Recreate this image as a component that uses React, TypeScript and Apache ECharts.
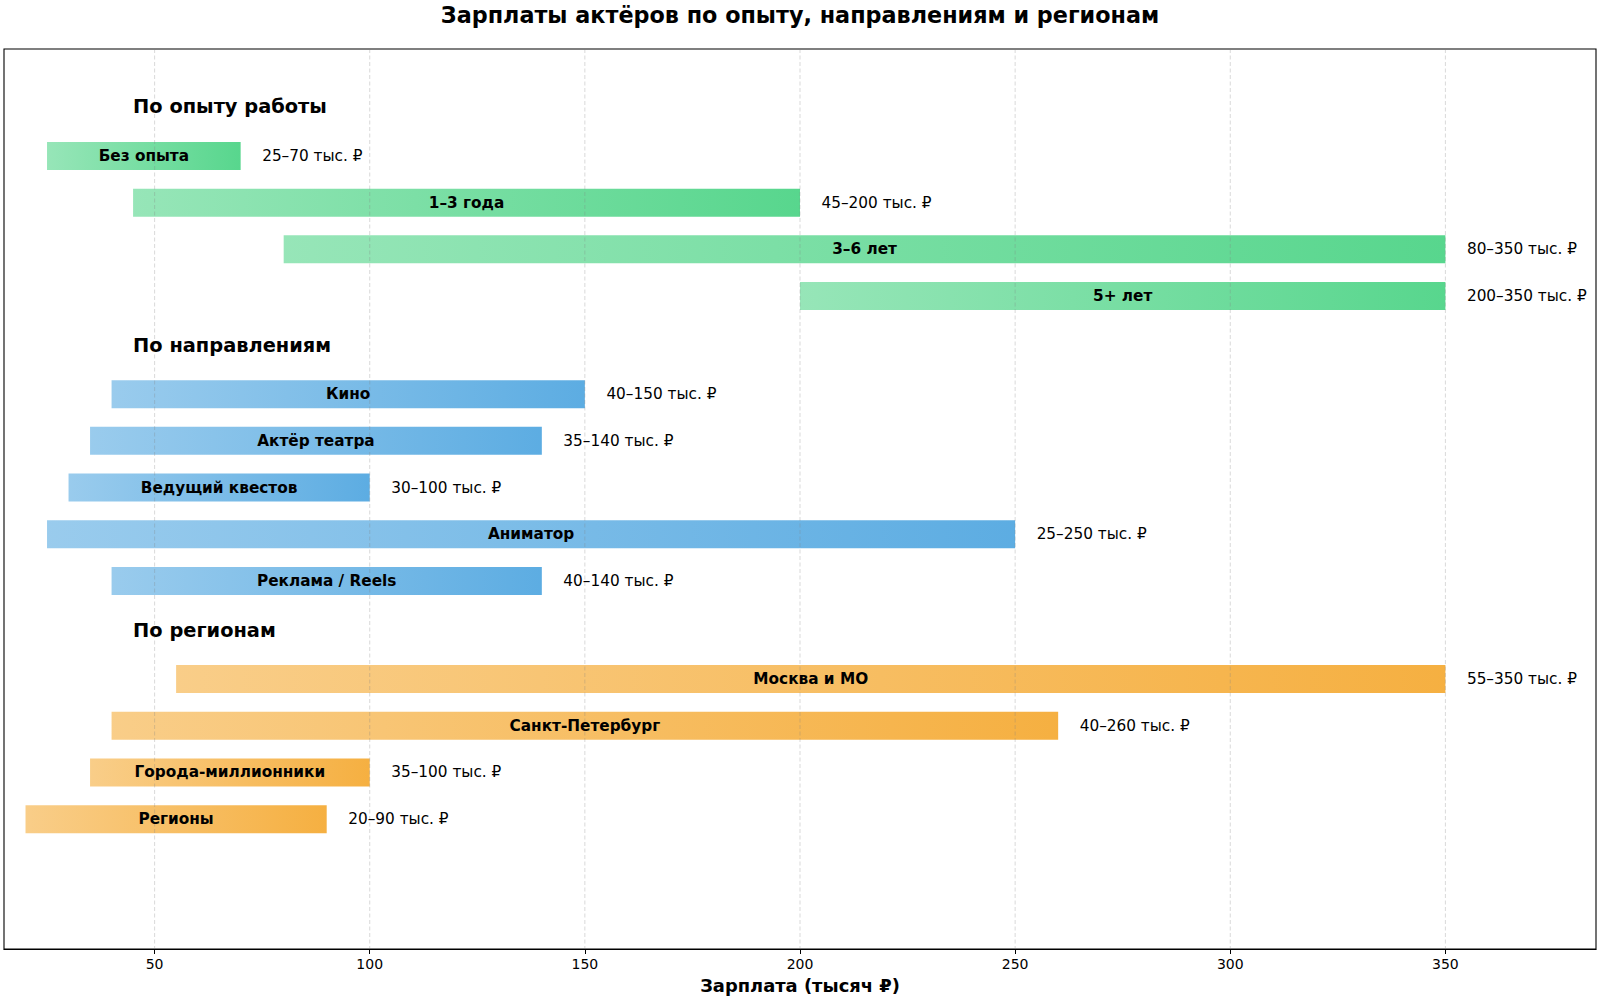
import React, { useEffect, useRef } from "react";
import * as echarts from "echarts";

// ---- data ----
const groupTitles = ["По опыту работы", "По направлениям", "По регионам"];
const groupColors = ["46,204,113", "52,152,219", "243,156,18"];

const expLabels = ["Без опыта", "1–3 года", "3–6 лет", "5+ лет"];
const expMin = [25, 45, 80, 200];
const expMax = [70, 200, 350, 350];

const dirLabels = ["Кино", "Актёр театра", "Ведущий квестов", "Аниматор", "Реклама / Reels"];
const dirMin = [40, 35, 30, 25, 40];
const dirMax = [150, 140, 100, 250, 140];

const regLabels = ["Москва и МО", "Санкт-Петербург", "Города-миллионники", "Регионы"];
const regMin = [55, 40, 35, 20];
const regMax = [350, 260, 100, 90];

const xTicks = [50, 100, 150, 200, 250, 300, 350];

const TITLE = "Зарплаты актёров по опыту, направлениям и регионам";
const X_NAME = "Зарплата (тысяч ₽)";
const FONT = '"DejaVu Sans", "Noto Sans", sans-serif';

export default function App() {
  const ref = useRef<HTMLDivElement>(null);

  useEffect(() => {
    if (!ref.current) return;
    const chart = echarts.init(ref.current, null, { renderer: "svg" });

    const groups = [
      { labels: expLabels, mins: expMin, maxs: expMax },
      { labels: dirLabels, mins: dirMin, maxs: dirMax },
      { labels: regLabels, mins: regMin, maxs: regMax },
    ];

    // layout rows
    const headerData: any[] = [];
    const barData: any[] = [];
    let y = 0;
    groups.forEach((g, gi) => {
      headerData.push([45, y, groupTitles[gi]]);
      y += 1.05;
      g.labels.forEach((lab, i) => {
        barData.push([g.mins[i], g.maxs[i], y, lab, gi]);
        y += 1;
      });
      y += 0.05;
    });

    const Y_MIN = -1.24;
    const Y_MAX = 18.03;

    const option: any = {
      animation: false,
      grid: {
        left: 4,
        top: 49,
        width: 1592,
        height: 900,
        show: true,
        borderColor: "#000",
        borderWidth: 1.1,
        backgroundColor: "transparent",
        containLabel: false,
        outerBoundsMode: "none",
      },
      xAxis: {
        type: "value",
        min: 15,
        max: 385,
        name: X_NAME,
        nameLocation: "middle",
        nameGap: 27,
        nameTextStyle: { fontFamily: FONT, fontSize: 17.9, fontWeight: "bold", color: "#000" },
        axisLine: { show: true, onZero: false, lineStyle: { color: "#000", width: 1.1 } },
        axisTick: {
          show: true,
          length: 5,
          lineStyle: { color: "#000", width: 1 },
          customValues: xTicks,
        },
        axisLabel: {
          show: true,
          customValues: xTicks,
          fontFamily: FONT,
          fontSize: 14,
          color: "#000",
          margin: 8,
        },
        splitLine: { show: false },
      },
      yAxis: {
        type: "value",
        min: Y_MIN,
        max: Y_MAX,
        inverse: true,
        show: false,
        splitLine: { show: false },
      },
      graphic: {
        elements: [
          {
            type: "text",
            x: 800,
            y: 14.5,
            style: {
              text: TITLE,
              fill: "#000",
              font: `bold 22.3px ${FONT}`,
              align: "center",
              textAlign: "center",
              verticalAlign: "middle",
              textVerticalAlign: "middle",
            },
          },
        ],
      },
      series: [
        {
          type: "custom",
          name: "bars",
          z: 2,
          data: barData,
          renderItem: (params: any, api: any) => {
            const lo = api.value(0);
            const hi = api.value(1);
            const yy = api.value(2);
            const gi = api.value(4);
            const p0 = api.coord([lo, yy]);
            const p1 = api.coord([hi, yy]);
            const h = Math.abs(api.size([0, 0.6])[1]);
            const c = groupColors[gi];
            return {
              type: "rect",
              shape: { x: p0[0], y: p0[1] - h / 2, width: p1[0] - p0[0], height: h },
              style: {
                fill: new echarts.graphic.LinearGradient(0, 0, 1, 0, [
                  { offset: 0, color: `rgba(${c},0.5)` },
                  { offset: 1, color: `rgba(${c},0.8)` },
                ]),
              },
            };
          },
        },
        {
          type: "custom",
          name: "grid",
          z: 3,
          silent: true,
          data: xTicks.map((v) => [v]),
          renderItem: (params: any, api: any) => {
            const v = api.value(0);
            const a = api.coord([v, Y_MIN]);
            const b = api.coord([v, Y_MAX]);
            return {
              type: "line",
              shape: { x1: a[0], y1: a[1], x2: b[0], y2: b[1] },
              style: { stroke: "rgba(128,128,128,0.3)", lineWidth: 1, lineDash: [4, 2.5] },
            };
          },
        },
        {
          type: "custom",
          name: "labels",
          z: 4,
          silent: true,
          data: barData,
          renderItem: (params: any, api: any) => {
            const lo = api.value(0);
            const hi = api.value(1);
            const yy = api.value(2);
            const idx = params.dataIndex;
            const lab = barData[idx][3];
            const pc = api.coord([(lo + hi) / 2, yy]);
            const pv = api.coord([hi + 5, yy]);
            return {
              type: "group",
              children: [
                {
                  type: "text",
                  style: {
                    text: lab,
                    x: pc[0],
                    y: pc[1],
                    fill: "#000",
                    font: `bold 15.3px ${FONT}`,
                    align: "center",
                    verticalAlign: "middle",
                  },
                },
                {
                  type: "text",
                  style: {
                    text: `${lo}–${hi} тыс. ₽`,
                    x: pv[0],
                    y: pv[1],
                    fill: "#000",
                    font: `15.3px ${FONT}`,
                    align: "left",
                    verticalAlign: "middle",
                  },
                },
              ],
            };
          },
        },
        {
          type: "custom",
          name: "headers",
          z: 4,
          silent: true,
          data: headerData,
          renderItem: (params: any, api: any) => {
            const p = api.coord([api.value(0), api.value(1)]);
            return {
              type: "text",
              style: {
                text: headerData[params.dataIndex][2],
                x: p[0],
                y: p[1],
                fill: "#000",
                font: `bold 19.4px ${FONT}`,
                align: "left",
                verticalAlign: "middle",
              },
            };
          },
        },
      ],
    };

    chart.setOption(option);
    return () => chart.dispose();
  }, []);

  return (
    <div
      ref={ref}
      style={{ position: "fixed", left: 0, top: 0, width: 1600, height: 1000, background: "#fff" }}
    />
  );
}
